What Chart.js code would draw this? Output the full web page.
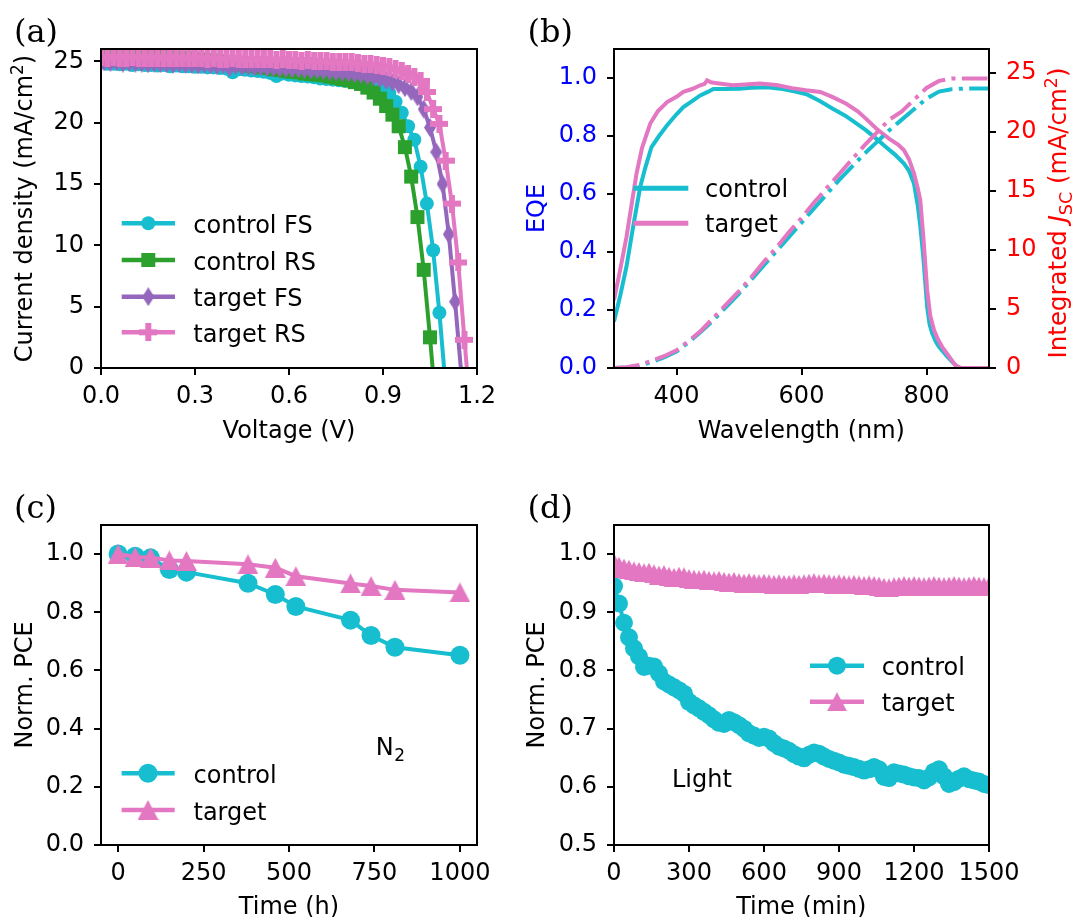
<!DOCTYPE html>
<html>
<head>
<meta charset="utf-8">
<title>Perovskite device figure</title>
<script src="https://cdn.jsdelivr.net/npm/chart.js@4.4.1/dist/chart.umd.min.js"></script>
<style>
html,body{margin:0;padding:0;background:#ffffff;}
#fig{position:relative;width:1074px;height:917px;overflow:hidden;background:#ffffff;}
#fig canvas{position:absolute;}
</style>
</head>
<body>
<div id="fig">
<canvas id="cA" width="520" height="458" style="left:0px;top:0px"></canvas>
<canvas id="cB" width="554" height="458" style="left:520px;top:0px"></canvas>
<canvas id="cC" width="520" height="459" style="left:0px;top:458px"></canvas>
<canvas id="cD" width="554" height="459" style="left:520px;top:458px"></canvas>
</div>
<script>
// ================= DATA =================
// (a) J-V curves
const jvSeriesNames = ['control FS', 'control RS', 'target FS', 'target RS'];
const jvV_ctrlFS = [0.00,0.02,0.04,0.06,0.08,0.10,0.12,0.14,0.16,0.18,0.20,0.22,0.24,0.26,0.28,0.30,0.32,0.34,0.36,0.38,0.40,0.42,0.44,0.46,0.48,0.50,0.52,0.54,0.56,0.58,0.60,0.62,0.64,0.66,0.68,0.70,0.72,0.74,0.76,0.78,0.80,0.82,0.84,0.86,0.88,0.90,0.92,0.94,0.96,0.98,1.00,1.02,1.04,1.06,1.08,1.10];
const jvJ_ctrlFS = [24.9,24.8,24.8,24.75,24.8,24.7,24.75,24.7,24.7,24.65,24.7,24.6,24.65,24.6,24.6,24.55,24.55,24.5,24.5,24.45,24.4,24.1,24.35,24.3,24.25,24.2,24.15,24.05,23.8,24.0,23.9,23.85,23.8,23.75,23.7,23.6,23.55,23.5,23.45,23.4,23.35,23.3,23.2,23.1,23.0,22.8,22.4,21.7,20.8,19.7,18.6,16.4,13.4,9.6,4.5,-1.5];
const jvV_ctrlRS = [0.01,0.03,0.05,0.07,0.09,0.11,0.13,0.15,0.17,0.19,0.21,0.23,0.25,0.27,0.29,0.31,0.33,0.35,0.37,0.39,0.41,0.43,0.45,0.47,0.49,0.51,0.53,0.55,0.57,0.59,0.61,0.63,0.65,0.67,0.69,0.71,0.73,0.75,0.77,0.79,0.81,0.83,0.85,0.87,0.89,0.91,0.93,0.95,0.97,0.99,1.01,1.03,1.05,1.07];
const jvJ_ctrlRS = [25.5,25.45,25.5,25.4,25.45,25.4,25.4,25.35,25.4,25.3,25.35,25.3,25.3,25.25,25.2,25.15,25.1,25.05,25.0,24.95,24.9,24.8,24.75,24.65,24.6,24.5,24.45,24.35,24.3,24.2,24.15,24.1,24.0,23.95,23.9,23.85,23.75,23.65,23.55,23.45,23.3,23.15,22.85,22.45,21.95,21.35,20.65,19.7,18.0,15.6,12.3,8.0,2.5,-3.5];
const jvV_tgtFS = [0.01,0.03,0.05,0.07,0.09,0.11,0.13,0.15,0.17,0.19,0.21,0.23,0.25,0.27,0.29,0.31,0.33,0.35,0.37,0.39,0.41,0.43,0.45,0.47,0.49,0.51,0.53,0.55,0.57,0.59,0.61,0.63,0.65,0.67,0.69,0.71,0.73,0.75,0.77,0.79,0.81,0.83,0.85,0.87,0.89,0.91,0.93,0.95,0.97,0.99,1.01,1.03,1.05,1.07,1.09,1.11,1.13,1.15,1.17];
const jvJ_tgtFS = [24.95,24.9,24.95,24.85,24.9,24.85,24.85,24.8,24.85,24.8,24.8,24.75,24.8,24.75,24.75,24.7,24.75,24.7,24.65,24.7,24.5,24.65,24.6,24.6,24.55,24.55,24.5,24.5,24.45,24.45,24.4,24.4,24.35,24.3,24.3,24.25,24.2,24.15,24.1,24.05,24.0,23.95,23.85,23.75,23.6,23.45,23.3,23.1,22.85,22.55,22.1,21.1,19.6,17.6,15.0,10.9,5.4,-0.5,-6.0];
const jvV_tgtRS = [0.00,0.02,0.04,0.06,0.08,0.10,0.12,0.14,0.16,0.18,0.20,0.22,0.24,0.26,0.28,0.30,0.32,0.34,0.36,0.38,0.40,0.42,0.44,0.46,0.48,0.50,0.52,0.54,0.56,0.58,0.60,0.62,0.64,0.66,0.68,0.70,0.72,0.74,0.76,0.78,0.80,0.82,0.84,0.86,0.88,0.90,0.92,0.94,0.96,0.98,1.00,1.02,1.04,1.06,1.08,1.10,1.12,1.14,1.16,1.18];
const jvJ_tgtRS = [25.35,25.3,25.35,25.3,25.3,25.35,25.3,25.3,25.25,25.3,25.3,25.25,25.3,25.25,25.25,25.3,25.25,25.2,25.25,25.2,25.2,25.25,25.2,25.2,25.15,25.2,25.15,25.15,25.1,25.15,25.1,25.1,25.05,25.1,25.05,25.0,25.0,24.95,24.95,24.9,24.9,24.85,24.8,24.75,24.7,24.6,24.5,24.35,24.2,24.0,23.75,23.4,22.5,21.1,19.9,16.9,13.4,8.6,2.3,-3.8];
const jvVoltTicks = [0, 0.3, 0.6, 0.9, 1.2];
const jvCurTicks = [0, 5, 10, 15, 20, 25];

// (b) EQE and integrated Jsc
const eqeSeriesNames = ['control', 'target'];
const eqeWl_ctrl = [300,310,320,330,342,350,360,372,385,400,411,425,438,450,459,475,500,520,545,570,590,608,630,650,670,690,703,720,735,750,764,772,780,786,790,795,801,805,809,815,820,833,846,852,900];
const eqe_ctrl = [0.16,0.25,0.35,0.48,0.625,0.69,0.762,0.80,0.837,0.875,0.90,0.92,0.94,0.952,0.962,0.962,0.963,0.966,0.968,0.962,0.953,0.944,0.92,0.894,0.87,0.84,0.82,0.79,0.762,0.735,0.705,0.68,0.636,0.56,0.49,0.38,0.211,0.15,0.12,0.09,0.073,0.04,0.01,0,0];
const eqeWl_tgt = [300,310,320,336,345,358,370,385,400,411,425,438,445,449,455,465,490,510,533,560,585,607,630,650,671,690,703,720,740,755,764,772,780,786,790,795,801,806,812,818,825,836,846,855,900];
const eqe_tgt = [0.234,0.34,0.452,0.67,0.76,0.843,0.885,0.917,0.935,0.952,0.962,0.975,0.98,0.992,0.985,0.982,0.975,0.978,0.981,0.976,0.965,0.958,0.952,0.934,0.912,0.885,0.86,0.825,0.791,0.77,0.751,0.72,0.67,0.62,0.579,0.45,0.269,0.18,0.131,0.1,0.073,0.04,0.01,0,0];
const jscWl = [300,320,340,360,380,400,420,440,460,480,500,520,540,560,580,600,620,640,660,680,700,720,740,760,780,800,820,840,860,880,900];
const jsc_ctrl = [0,0.05,0.2,0.5,0.9,1.4,2.2,3.1,4.1,5.2,6.3,7.5,8.7,9.9,11.1,12.3,13.5,14.7,15.9,17.0,18.1,19.1,20.1,21.0,21.9,22.8,23.4,23.6,23.65,23.65,23.65];
const jsc_tgt = [0,0.06,0.25,0.6,1.0,1.5,2.3,3.2,4.3,5.4,6.5,7.7,9.0,10.2,11.5,12.7,14.0,15.2,16.4,17.6,18.8,19.9,21.0,21.7,22.7,23.7,24.3,24.5,24.5,24.5,24.5];
const wlTicks = [400, 600, 800];
const eqeTicks = [0, 0.2, 0.4, 0.6, 0.8, 1.0];
const jscTicks = [0, 5, 10, 15, 20, 25];

// (c) N2 storage stability
const stabSeriesNames = ['control', 'target'];
const n2Time = [0,50,95,150,200,380,460,520,680,740,810,1000];
const n2_ctrl = [1.0,0.993,0.987,0.947,0.938,0.90,0.861,0.82,0.773,0.72,0.68,0.652];
const n2_tgt = [1.0,0.99,0.988,0.978,0.976,0.965,0.953,0.924,0.899,0.89,0.877,0.868];
const n2TimeTicks = [0, 250, 500, 750, 1000];
const normTicksC = [0, 0.2, 0.4, 0.6, 0.8, 1.0];

// (d) light soaking stability
const lightTime = [0,20,40,60,80,100,120,140,160,180,200,220,240,260,280,300,320,340,360,380,400,420,440,460,480,500,520,540,560,580,600,620,640,660,680,700,720,740,760,780,800,820,840,860,880,900,920,940,960,980,1000,1020,1040,1060,1080,1100,1120,1140,1160,1180,1200,1220,1240,1260,1280,1300,1320,1340,1360,1380,1400,1420,1440,1460,1480,1500];
const light_ctrl = [0.945,0.915,0.882,0.857,0.838,0.824,0.806,0.808,0.807,0.795,
  0.781,0.776,0.771,0.766,0.760,0.746,0.740,0.735,0.729,0.723,
  0.716,0.710,0.708,0.715,0.711,0.706,0.700,0.692,0.688,0.684,
  0.686,0.683,0.675,0.669,0.666,0.662,0.656,0.652,0.649,0.655,
  0.659,0.657,0.652,0.648,0.645,0.642,0.638,0.636,0.634,0.631,
  0.628,0.630,0.634,0.630,0.617,0.615,0.625,0.623,0.621,0.618,
  0.616,0.615,0.611,0.616,0.626,0.630,0.618,0.605,0.608,0.614,
  0.618,0.613,0.611,0.609,0.605,0.603];
const light_tgt = [0.985,0.979,0.976,0.974,0.971,0.970,0.968,0.969,0.966,0.964,
  0.965,0.962,0.960,0.962,0.961,0.958,0.957,0.956,0.957,0.955,
  0.954,0.955,0.953,0.952,0.953,0.951,0.950,0.951,0.950,0.949,
  0.950,0.949,0.948,0.949,0.948,0.948,0.949,0.948,0.949,0.950,
  0.951,0.949,0.950,0.949,0.948,0.949,0.948,0.947,0.948,0.947,
  0.946,0.947,0.946,0.945,0.943,0.942,0.944,0.945,0.946,0.945,
  0.946,0.945,0.944,0.945,0.946,0.945,0.944,0.945,0.946,0.945,
  0.944,0.945,0.946,0.945,0.944,0.945];
const lightTimeTicks = [0, 300, 600, 900, 1200, 1500];
const normTicksD = [0.5, 0.6, 0.7, 0.8, 0.9, 1.0];

// ================= STYLE =================
const FAM = "'DejaVu Sans', 'Liberation Sans', sans-serif";
const SERIF = "'DejaVu Serif', 'Liberation Serif', serif";
const CYAN = '#17becf', GREEN = '#2ca02c', PURPLE = '#9467bd', PINK = '#e377c2';
const F = (sz, st) => (st ? st + ' ' : '') + sz + 'px ' + FAM;
Chart.defaults.font.family = FAM;
Chart.defaults.color = '#000';

function makeMarker(kind, color, w, h) {
  const c = document.createElement('canvas');
  c.width = w; c.height = h;
  const g = c.getContext('2d');
  g.fillStyle = color;
  g.beginPath();
  if (kind === 'thinDiamond') { g.moveTo(w/2, 0); g.lineTo(w, h/2); g.lineTo(w/2, h); g.lineTo(0, h/2); g.closePath(); }
  else if (kind === 'plus') { const t = w/3; g.rect(t, 0, t, h); g.rect(0, t, w, t); }
  else if (kind === 'triUp') { g.moveTo(w/2, 0); g.lineTo(w, h); g.lineTo(0, h); g.closePath(); }
  g.fill();
  return c;
}
const mkDiamond = makeMarker('thinDiamond', PURPLE, 12, 19);
const mkPlus = makeMarker('plus', PINK, 18, 18);
const mkTriC = makeMarker('triUp', PINK, 21, 20);
const mkTriD = makeMarker('triUp', PINK, 20, 19);

function series(xs, ys, label, color, opt) {
  return Object.assign({
    label: label,
    data: xs.map((x, i) => ({x: x, y: ys[i]})),
    showLine: true, tension: 0, clip: 0,
    borderColor: color, backgroundColor: color, borderWidth: 4,
    pointStyle: 'circle', pointRadius: 0, pointHoverRadius: 0,
    pointBackgroundColor: color, pointBorderColor: color, pointBorderWidth: 0
  }, opt || {});
}

function axis(pos, min, max, tickVals, fmt, size, color) {
  return {
    type: 'linear', position: pos, min: min, max: max,
    afterBuildTicks: s => { s.ticks = tickVals.map(v => ({value: v})); },
    afterFit: s => { if (pos === 'left' || pos === 'right') s.width = size; else s.height = size; },
    grid: {display: true, drawOnChartArea: false, drawTicks: true, tickLength: 7, tickWidth: 2, tickColor: '#000', lineWidth: 2, color: '#000'},
    border: {display: false},
    ticks: {color: color || '#000', font: {family: FAM, size: 24}, padding: pos === 'bottom' ? 7 : 10,
            maxRotation: 0, minRotation: 0, autoSkip: false, callback: v => fmt(v)},
    title: {display: false}
  };
}
const f1 = v => Number(v).toFixed(1);
const f0 = v => String(Math.round(v));

function drawRich(ctx, segs, x, y, rot, color) {
  ctx.save();
  ctx.translate(x, y);
  if (rot) ctx.rotate(rot);
  ctx.fillStyle = color || '#000';
  ctx.textBaseline = 'alphabetic';
  ctx.textAlign = 'left';
  let w = 0;
  for (const s of segs) { ctx.font = s.f; w += ctx.measureText(s.t).width; }
  let cx = -w / 2;
  for (const s of segs) { ctx.font = s.f; ctx.fillText(s.t, cx, s.dy || 0); cx += ctx.measureText(s.t).width; }
  ctx.restore();
}
function drawText(ctx, t, x, y, font, color) {
  ctx.save(); ctx.font = font; ctx.fillStyle = color || '#000';
  ctx.textBaseline = 'alphabetic'; ctx.textAlign = 'left';
  ctx.fillText(t, x, y); ctx.restore();
}
function drawMarker(ctx, style, r, color, x, y) {
  if (!style) return;
  if (typeof style !== 'string') { ctx.drawImage(style, x - style.width/2, y - style.height/2); return; }
  ctx.save(); ctx.fillStyle = color; ctx.beginPath();
  if (style === 'circle') ctx.arc(x, y, r, 0, Math.PI * 2);
  else if (style === 'rect') { const s = r * Math.SQRT1_2; ctx.rect(x - s, y - s, 2*s, 2*s); }
  ctx.fill(); ctx.restore();
}
function drawLegend(ctx, chart, idx, L) {
  idx.forEach((di, i) => {
    const d = chart.data.datasets[di];
    const y = L.rows[i];
    ctx.save();
    ctx.strokeStyle = d.borderColor; ctx.lineWidth = L.lw; ctx.lineCap = 'butt';
    ctx.beginPath(); ctx.moveTo(L.x1, y); ctx.lineTo(L.x2, y); ctx.stroke();
    ctx.restore();
    if (L.markers) drawMarker(ctx, d.pointStyle, d.pointRadius, d.borderColor, L.xm, y);
    drawText(ctx, d.label, L.xt, y + L.dy, F(24));
  });
}
function deco(draw) {
  return { id: 'deco', afterDraw(chart) {
    const ctx = chart.ctx, a = chart.chartArea;
    ctx.save(); ctx.strokeStyle = '#000'; ctx.lineWidth = 2;
    ctx.strokeRect(a.left, a.top, a.right - a.left, a.bottom - a.top);
    ctx.restore();
    draw(ctx, a, chart);
  }};
}
const baseOpts = (padding) => ({
  responsive: false, animation: false, events: [], devicePixelRatio: 1,
  layout: {padding: padding},
  plugins: {legend: {display: false}, tooltip: {enabled: false}, title: {display: false}}
});

// ================= (a) =================
new Chart(document.getElementById('cA'), {
  type: 'scatter',
  data: {datasets: [
    series(jvV_ctrlFS, jvJ_ctrlFS, jvSeriesNames[0], CYAN, {borderWidth: 4, pointStyle: 'circle', pointRadius: 7, order: 4}),
    series(jvV_ctrlRS, jvJ_ctrlRS, jvSeriesNames[1], GREEN, {borderWidth: 4, pointStyle: 'rect', pointRadius: 9.9, order: 3}),
    series(jvV_tgtFS, jvJ_tgtFS, jvSeriesNames[2], PURPLE, {borderWidth: 4, pointStyle: mkDiamond, pointRadius: 8, order: 2}),
    series(jvV_tgtRS, jvJ_tgtRS, jvSeriesNames[3], PINK, {borderWidth: 4, pointStyle: mkPlus, pointRadius: 8, order: 1})
  ]},
  options: Object.assign(baseOpts({left: 0, top: 49, right: 43, bottom: 0}), {
    scales: {
      x: axis('bottom', 0, 1.2, jvVoltTicks, f1, 90),
      y: axis('left', 0, 26, jvCurTicks, f0, 101)
    }
  }),
  plugins: [deco((ctx, a, chart) => {
    drawText(ctx, '(a)', 14, 42, '32px ' + SERIF);
    drawRich(ctx, [{t: 'Voltage (V)', f: F(24)}], 289, 437.5, 0);
    drawRich(ctx, [{t: 'Current density (mA/cm', f: F(24)}, {t: '2', f: F(17), dy: -9}, {t: ')', f: F(24)}], 32, 208.5, -Math.PI/2);
    drawLegend(ctx, chart, [0, 1, 2, 3], {rows: [223.3, 260, 296.7, 332.3], x1: 121.7, x2: 175, xm: 148.3, xt: 193.3, dy: 9.5, lw: 4.5, markers: true});
  })]
});

// ================= (b) =================
new Chart(document.getElementById('cB'), {
  type: 'scatter',
  data: {datasets: [
    series(eqeWl_ctrl, eqe_ctrl, eqeSeriesNames[0], CYAN, {yAxisID: 'y', order: 4}),
    series(eqeWl_tgt, eqe_tgt, eqeSeriesNames[1], PINK, {yAxisID: 'y', order: 3}),
    series(jscWl, jsc_ctrl, eqeSeriesNames[0], CYAN, {yAxisID: 'y2', borderDash: [25.6, 6.4, 4, 6.4], order: 2}),
    series(jscWl, jsc_tgt, eqeSeriesNames[1], PINK, {yAxisID: 'y2', borderDash: [25.6, 6.4, 4, 6.4], order: 1})
  ]},
  options: Object.assign(baseOpts({left: 0, top: 49, right: 0, bottom: 0}), {
    scales: {
      x: axis('bottom', 300, 900, wlTicks, f0, 90),
      y: axis('left', 0, 1.1, eqeTicks, f1, 94, '#0000ff'),
      y2: axis('right', 0, 27, jscTicks, f0, 85, '#ff0000')
    }
  }),
  plugins: [deco((ctx, a, chart) => {
    drawText(ctx, '(b)', 7.5, 42, '32px ' + SERIF);
    drawRich(ctx, [{t: 'Wavelength (nm)', f: F(24)}], 281.3, 437.5, 0);
    drawRich(ctx, [{t: 'EQE', f: F(24)}], 23.6, 208.5, -Math.PI/2, '#0000ff');
    drawRich(ctx, [{t: 'Integrated ', f: F(24.5)}, {t: 'J', f: F(24.5, 'italic')}, {t: 'SC', f: F(17.5), dy: 6},
                   {t: ' (mA/cm', f: F(24.5)}, {t: '2', f: F(17.5), dy: -9}, {t: ')', f: F(24.5)}], 546, 213, -Math.PI/2, '#ff0000');
    drawLegend(ctx, chart, [0, 1], {rows: [188.3, 223.3], x1: 113.3, x2: 168.3, xm: 140, xt: 185, dy: 9, lw: 5, markers: false});
  })]
});

// ================= (c) =================
new Chart(document.getElementById('cC'), {
  type: 'scatter',
  data: {datasets: [
    series(n2Time, n2_ctrl, stabSeriesNames[0], CYAN, {pointStyle: 'circle', pointRadius: 9.5, order: 2}),
    series(n2Time, n2_tgt, stabSeriesNames[1], PINK, {pointStyle: mkTriC, pointRadius: 9, order: 1})
  ]},
  options: Object.assign(baseOpts({left: 0, top: 67, right: 43, bottom: 0}), {
    scales: {
      x: axis('bottom', -50, 1050, n2TimeTicks, f0, 72),
      y: axis('left', 0, 1.1, normTicksC, f1, 101)
    }
  }),
  plugins: [deco((ctx, a, chart) => {
    drawText(ctx, '(c)', 14, 60, '32px ' + SERIF);
    drawRich(ctx, [{t: 'Time (h)', f: F(24)}], 289, 455.5, 0);
    drawRich(ctx, [{t: 'Norm. PCE', f: F(24)}], 32, 227, -Math.PI/2);
    drawLegend(ctx, chart, [0, 1], {rows: [315.3, 352], x1: 121.6, x2: 174.7, xm: 148, xt: 193.5, dy: 9.5, lw: 4.5, markers: true});
    drawText(ctx, 'N', 375.7, 297, F(24));
    ctx.save(); ctx.font = F(24); const wN = ctx.measureText('N').width; ctx.restore();
    drawText(ctx, '2', 375.7 + wN + 0.5, 303, F(17));
  })]
});

// ================= (d) =================
new Chart(document.getElementById('cD'), {
  type: 'scatter',
  data: {datasets: [
    series(lightTime, light_ctrl, stabSeriesNames[0], CYAN, {pointStyle: 'circle', pointRadius: 9, order: 2}),
    series(lightTime, light_tgt, stabSeriesNames[1], PINK, {pointStyle: mkTriD, pointRadius: 9, order: 1})
  ]},
  options: Object.assign(baseOpts({left: 0, top: 67, right: 85, bottom: 0}), {
    scales: {
      x: axis('bottom', 0, 1500, lightTimeTicks, f0, 72),
      y: axis('left', 0.5, 1.05, normTicksD, f1, 94)
    }
  }),
  plugins: [deco((ctx, a, chart) => {
    drawText(ctx, '(d)', 7.5, 60, '32px ' + SERIF);
    drawRich(ctx, [{t: 'Time (min)', f: F(24)}], 281.3, 455.5, 0);
    drawRich(ctx, [{t: 'Norm. PCE', f: F(24)}], 23.6, 227, -Math.PI/2);
    drawLegend(ctx, chart, [0, 1], {rows: [207.7, 243.7], x1: 290, x2: 344, xm: 317, xt: 361.7, dy: 9.5, lw: 4.5, markers: true});
    drawText(ctx, 'Light', 152, 329, F(24));
  })]
});
</script>
</body>
</html>
